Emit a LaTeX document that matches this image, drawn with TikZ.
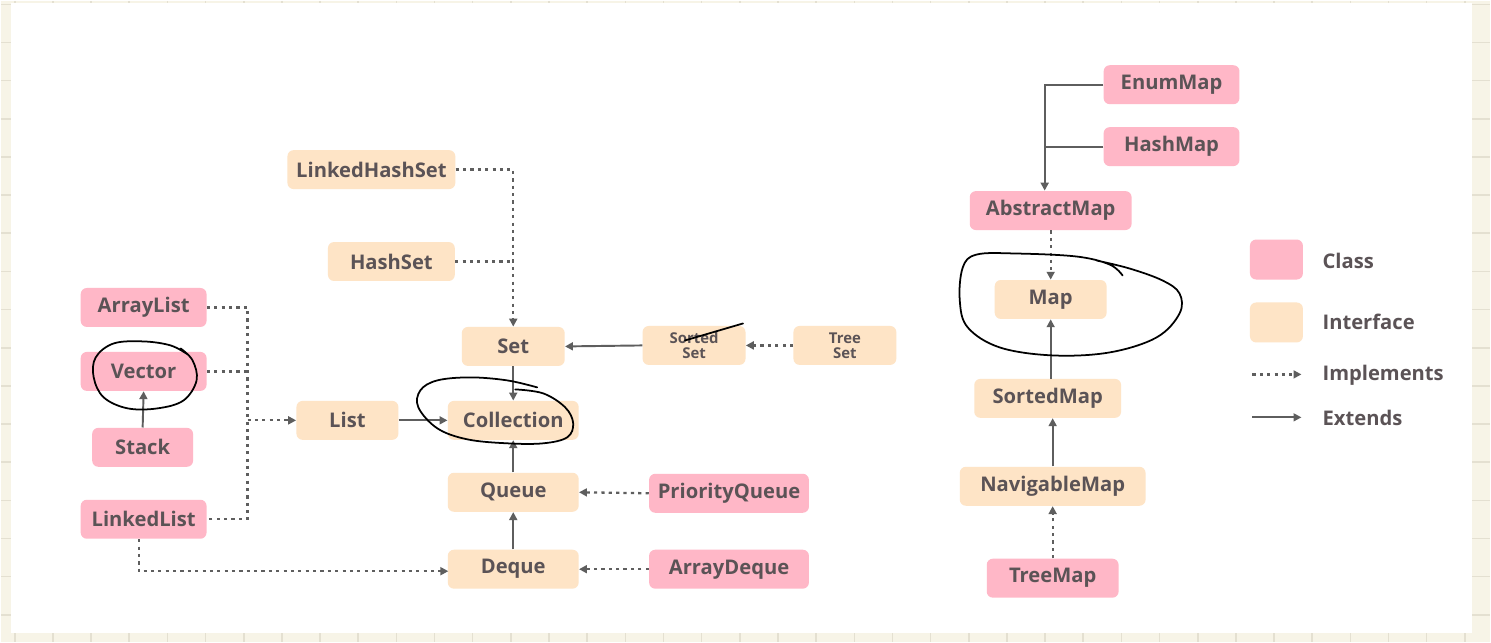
\documentclass[tikz,border=0pt]{standalone}
\usepackage{fontspec}
\setmainfont{Open Sans}
\usetikzlibrary{arrows.meta}
\definecolor{paper}{HTML}{F7F4E7}
\definecolor{gridc}{HTML}{E4E0D1}
\definecolor{classc}{HTML}{FFB7C7}
\definecolor{ifacec}{HTML}{FEE4C6}
\definecolor{txt}{HTML}{5B5356}
\definecolor{wire}{HTML}{5E5E5E}
\begin{document}
\begin{tikzpicture}[x=0.02cm,y=-0.02cm,
  box/.style={rounded corners=3.5pt, inner sep=0pt, minimum height=39*0.02cm,
    text=txt, font=\fontsize{11.5}{13}\selectfont\bfseries, align=center},
  cls/.style={box, fill=classc},
  ifc/.style={box, fill=ifacec},
  wd/.style={minimum width=#1*0.02cm},
  small/.style={font=\fontsize{8.5}{8.5}\selectfont\bfseries},
  extl/.style={draw=wire, line width=1.1pt},
  ext/.style={extl, -{Triangle[length=4.5pt,width=4.5pt]}},
  imp/.style={draw=wire, line width=1.3pt, dash pattern=on 1.8pt off 2.4pt},
  impa/.style={imp, -{Triangle[length=4.5pt,width=4.5pt]}},
  ink/.style={black, line width=1pt, line cap=round, line join=round},
  legtext/.style={anchor=west, text=txt, font=\fontsize{11.5}{13}\selectfont\bfseries}
]
% page with ruled grid and white sheet
\fill[paper] (0,0) rectangle (1491,642);
\foreach \i in {0,...,38} \draw[gridc, line width=0.9pt] ({14+38.2*\i},0) -- ({14+38.2*\i},642);
\foreach \j in {0,...,16} \draw[gridc, line width=0.9pt] (0,{3.5+38.2*\j}) -- (1491,{3.5+38.2*\j});
\fill[white] (10,2) rectangle (1473,633);
\useasboundingbox (0,0) rectangle (1491,642);

% collection hierarchy
\node[ifc, wd=168] (lhs) at (371,169) {LinkedHashSet};
\node[ifc, wd=127] (hs) at (391,261) {HashSet};
\node[cls, wd=126] (al) at (143,307) {ArrayList};
\node[cls, wd=126] (vec) at (143,371) {Vector};
\node[cls, wd=101] (st) at (142,447) {Stack};
\node[cls, wd=126] (ll) at (143,519) {LinkedList};
\node[ifc, wd=102] (list) at (347,420) {List};
\node[ifc, wd=103] (set) at (513,346) {Set};
\node[ifc, wd=131] (coll) at (513,420) {Collection};
\node[ifc, wd=131] (queue) at (513,492) {Queue};
\node[ifc, wd=131] (deque) at (513,569) {Deque};
\node[ifc, wd=103, small] (sset) at (694,345) {Sorted\\Set};
\node[ifc, wd=103, small] (tset) at (845,345) {Tree\\Set};
\node[cls, wd=160] (pq) at (729,493) {PriorityQueue};
\node[cls, wd=160] (ad) at (729,569) {ArrayDeque};

% map hierarchy
\node[cls, wd=136] (em) at (1172,84) {EnumMap};
\node[cls, wd=136] (hm) at (1172,146) {HashMap};
\node[cls, wd=162] (am) at (1051,210) {AbstractMap};
\node[ifc, wd=112] (map) at (1051,299) {Map};
\node[ifc, wd=147] (smap) at (1048,398) {SortedMap};
\node[ifc, wd=186] (nmap) at (1053,486) {NavigableMap};
\node[cls, wd=132] (tmap) at (1053,578) {TreeMap};

% legend
\node[cls, wd=53, minimum height=40*0.02cm] (lgc) at (1277,259) {};
\node[ifc, wd=53, minimum height=40*0.02cm] (lgi) at (1277,322) {};
\node[legtext] (lgct) at (1317,260) {Class};
\node[legtext] (lgit) at (1317,321) {Interface};
\node[legtext] (lgmt) at (1317,375) {Implements};
\node[legtext] (lget) at (1317,418) {Extends};
\coordinate (lm1) at (1253,374);
\coordinate (lm2) at (1302,374);
\coordinate (le1) at (1253,417);
\coordinate (le2) at (1302,417);
\draw[impa] (lm1) -- (lm2);
\draw[ext] (le1) -- (le2);

% set branch
\draw[impa] (lhs.east) -| (set.north);
\draw[imp] (hs.east) -- (hs.east -| set.north);
\draw[ext] (sset.west) -- (set.east);
\draw[impa] (tset.west) -- (sset.east);
\draw[ext] (set.south) -- (coll.north);

% list branch: one bus line from ArrayList down to LinkedList
\coordinate (lj) at (247,420);
\draw[imp] (al.east) -- (al.east -| lj) -- (ll.east -| lj) -- (ll.east);
\draw[imp] (vec.east) -- (vec.east -| lj);
\draw[impa] (lj) -- (list.west);
\draw[ext] (st.north) -- (vec.south);
\draw[ext] (list.east) -- (coll.west);

% queue branch
\draw[ext] (queue.north) -- (coll.south);
\draw[ext] (deque.north) -- (queue.south);
\draw[impa] (pq.west) -- (queue.east);
\draw[impa] (ad.west) -- (deque.east);
\coordinate (llb) at (138,539);
\coordinate (dqin) at (448,571);
\draw[impa] (llb) |- (dqin);

% map branch
\coordinate (amin) at (1045,190);
\draw[ext] (em.west) -| (amin);
\draw[extl] (hm.west) -- (hm.west -| amin);
\draw[impa] (am.south) -- (map.north);
\draw[ext] (smap.north -| map.south) -- (map.south);
\draw[ext] (nmap.north) -- (nmap.north |- smap.south);
\draw[impa] (tmap.north) -- (nmap.south);

% pen marks
\draw[ink] plot[smooth, tension=0.6] coordinates {(187,354) (170,345) (143,341) (113,343) (95,357) (93,377) (103,397) (127,408) (157,408) (183,400) (196,380) (192,360) (180,348)};
\draw[ink] plot[smooth, tension=0.6] coordinates {(515,389) (543,393) (565,407) (573,423) (567,437) (543,443) (507,443) (467,439) (437,428) (418,407) (420,390) (437,380) (470,377) (507,380) (537,387)};
\draw[ink] plot[smooth, tension=0.6] coordinates {(1123,275) (1110,264) (1077,256) (1017,253) (977,254) (963,267) (960,300) (968,327) (1000,347) (1053,355) (1110,352) (1157,337) (1180,313) (1180,293) (1163,280) (1130,268) (1097,260)};
\draw[ink] (685,340) -- (743,323);
\end{tikzpicture}
\end{document}
